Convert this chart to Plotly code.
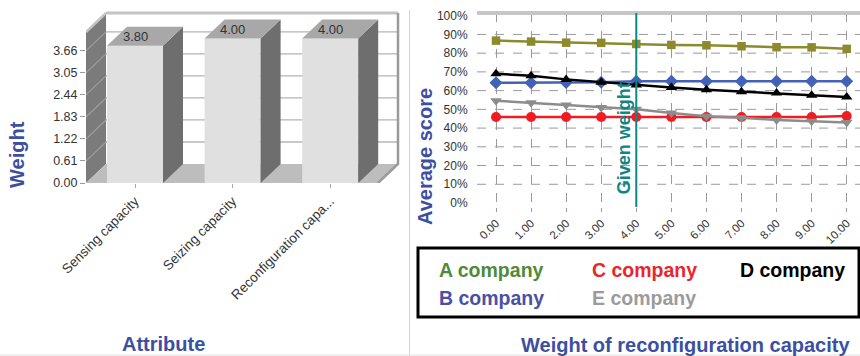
import plotly.graph_objects as go

# ---------------- data ----------------
attributes = ["Sensing capacity", "Seizing capacity", "Reconfiguration capa..."]
weights = [3.80, 4.00, 4.00]
weight_ticks = [0.00, 0.61, 1.22, 1.83, 2.44, 3.05, 3.66]

recon_weight = [0, 1, 2, 3, 4, 5, 6, 7, 8, 9, 10]
recon_labels = ["0.00", "1.00", "2.00", "3.00", "4.00", "5.00",
                "6.00", "7.00", "8.00", "9.00", "10.00"]
score_a = [86.7, 86.2, 85.6, 85.5, 84.9, 84.4, 84.2, 83.7, 83.2, 83.1, 82.3]
score_b = [64.2, 64.2, 64.3, 64.5, 65.0, 65.0, 65.0, 65.0, 65.0, 65.0, 65.0]
score_c = [45.9, 45.9, 45.9, 45.9, 45.9, 45.9, 45.9, 45.9, 45.9, 45.9, 46.4]
score_d = [69.0, 68.0, 66.0, 64.5, 63.0, 61.6, 60.5, 59.4, 58.7, 57.5, 56.6]
score_e = [54.6, 53.5, 52.3, 51.0, 50.0, 48.0, 46.3, 45.5, 44.3, 43.6, 43.0]
score_ticks = [0, 10, 20, 30, 40, 50, 60, 70, 80, 90, 100]
score_labels = [f"{t}%" for t in score_ticks]
given_weight = weights[2]

W, H = 860, 356
FONT = "Liberation Sans, Arial, sans-serif"
TITLE_BLUE = "#3d4fa3"


def px(x):
    return x / W


def py(y):
    return 1 - y / H


fig = go.Figure()
shapes = []
annotations = []

# ---------------- left panel: 3D column chart ----------------
L_ORIGIN, L_STEP = 135.0, 97.6       # pixel position of first category, spacing
L_BASE, L_UNIT = 183.0, 36.1         # pixel of value 0, pixels per unit
L_LEFT, L_RIGHT, L_TOP = 86.0, 400.0, 5.0
x_lo = (L_LEFT - L_ORIGIN) / L_STEP
x_hi = (L_RIGHT - L_ORIGIN) / L_STEP
DX = 20 / L_STEP                      # depth offset, x units
DY = 19 / L_UNIT                      # depth offset, y units
WALL_H = (L_BASE - 32) / L_UNIT
x_floor_r = (378 - L_ORIGIN) / L_STEP
BAR_W = 56 / L_STEP

# back wall
shapes.append(dict(type="rect", xref="x", yref="y", layer="below",
                   x0=x_lo + DX, x1=x_floor_r + DX, y0=DY, y1=WALL_H + DY,
                   fillcolor="white", line=dict(width=0)))
for t in weight_ticks[1:]:
    shapes.append(dict(type="line", xref="x", yref="y", layer="below",
                       x0=x_lo + DX, x1=x_floor_r + DX, y0=t + DY, y1=t + DY,
                       line=dict(color="#b4b4b4", width=1.3)))
# left wall
shapes.append(dict(type="path", xref="x", yref="y", layer="below",
                   path=f"M{x_lo},0 L{x_lo + DX},{DY} L{x_lo + DX},{WALL_H + DY} L{x_lo},{WALL_H} Z",
                   fillcolor="#7b7b7b", line=dict(width=0)))
for t in weight_ticks[1:]:
    shapes.append(dict(type="line", xref="x", yref="y", layer="below",
                       x0=x_lo, x1=x_lo + DX, y0=t, y1=t + DY,
                       line=dict(color="#9c9c9c", width=1.2)))
# floor
shapes.append(dict(type="path", xref="x", yref="y", layer="below",
                   path=f"M{x_lo},0 L{x_floor_r},0 L{x_floor_r + DX},{DY} L{x_lo + DX},{DY} Z",
                   fillcolor="#bdbdbd", line=dict(width=0)))
# frame edges
shapes.append(dict(type="line", xref="x", yref="y", layer="below",
                   x0=x_lo + DX, x1=x_floor_r + DX, y0=WALL_H + DY, y1=WALL_H + DY,
                   line=dict(color="#c4c4c4", width=3)))
shapes.append(dict(type="line", xref="x", yref="y", layer="below",
                   x0=x_lo, x1=x_lo + DX, y0=WALL_H, y1=WALL_H + DY,
                   line=dict(color="#c4c4c4", width=2.5)))
shapes.append(dict(type="path", xref="x", yref="y", layer="below",
                   path=f"M{x_floor_r + DX},{WALL_H + DY} L{x_floor_r + DX},{DY} L{x_floor_r},0",
                   line=dict(color="#9a9a9a", width=2.5)))

# bar side and top faces
for i, v in enumerate(weights):
    xr = i + BAR_W / 2
    xl = i - BAR_W / 2
    fig.add_trace(go.Scatter(
        x=[xr, xr + DX, xr + DX, xr, xr], y=[0, DY, v + DY, v, 0],
        mode="lines", fill="toself", fillcolor="#6e6e6e", line=dict(width=0),
        hoverinfo="skip", showlegend=False, xaxis="x", yaxis="y"))
    fig.add_trace(go.Scatter(
        x=[xl, xl + DX, xr + DX, xr, xl], y=[v, v + DY, v + DY, v, v],
        mode="lines", fill="toself", fillcolor="#a8a8a8", line=dict(width=0),
        hoverinfo="skip", showlegend=False, xaxis="x", yaxis="y"))
    annotations.append(dict(xref="x", yref="y", x=i, y=v + DY / 2,
                            text=f"{v:.2f}", showarrow=False,
                            font=dict(family=FONT, size=13, color="#333")))

# bar front faces
fig.add_trace(go.Bar(x=list(range(len(weights))), y=weights, width=BAR_W,
                     marker=dict(color="#e0e0e0", line=dict(width=0)),
                     showlegend=False, xaxis="x", yaxis="y"))

# ---------------- right panel: sensitivity lines ----------------
R_ORIGIN, R_STEP = 496.0, 35.07
R_LEFT, R_RIGHT = 477.0, 860.0
R_ZERO, R_UNIT = 203.0, 1.873
R_TOP, R_BOTTOM = 13.0, 207.0

series = [
    ("A company", score_a, "#8b8b2e", "square", 8.5),
    ("B company", score_b, "#4262b8", "diamond", 10),
    ("C company", score_c, "#f01c22", "circle", 10),
    ("D company", score_d, "#000000", "triangle-up", 10),
    ("E company", score_e, "#8c8c8c", "triangle-down", 10),
]
for name, vals, col, sym, size in series:
    fig.add_trace(go.Scatter(
        x=recon_weight, y=vals, name=name, mode="lines+markers",
        line=dict(color=col, width=2.5),
        marker=dict(symbol=sym, size=size, color=col),
        cliponaxis=False, showlegend=False, xaxis="x2", yaxis="y2"))

for t in score_ticks[1:-1]:
    shapes.append(dict(type="line", xref="x2 domain", yref="y2", layer="below",
                       x0=0, x1=1, y0=t, y1=t,
                       line=dict(color="#9a9a9a", width=1, dash="dash")))
shapes.append(dict(type="line", xref="x2 domain", yref="y2 domain",
                   x0=0, x1=1, y0=1, y1=1, line=dict(color="#c6c6c6", width=4)))

# given weight marker
shapes.append(dict(type="line", xref="x2", yref="y2 domain",
                   x0=given_weight, x1=given_weight, y0=0, y1=1,
                   line=dict(color="#0f8585", width=2)))
annotations.append(dict(xref="x2", yref="y2", x=given_weight, y=33.6,
                        xanchor="center", yanchor="middle", xshift=-12, yshift=2,
                        text="<b>Given weight</b>", textangle=-90, showarrow=False,
                        font=dict(family=FONT, size=18, color="#0f8585")))

# legend box
shapes.append(dict(type="rect", xref="paper", yref="paper",
                   x0=px(418), x1=px(859), y0=py(317), y1=py(248),
                   line=dict(color="black", width=3)))
legend_items = [
    ("A company", "#4f8a3a", 437, 270),
    ("C company", "#e8262c", 590, 270),
    ("D company", "#000000", 738, 270),
    ("B company", "#4b4fa6", 437, 298),
    ("E company", "#9b9b9b", 590, 298),
]
for txt, col, lx, ly in legend_items:
    annotations.append(dict(xref="paper", yref="paper", x=px(lx), y=py(ly),
                            xanchor="left", yanchor="middle", showarrow=False,
                            text=f"<b>{txt}</b>",
                            font=dict(family=FONT, size=19.5, color=col)))

# axis titles
for txt, cx, cy, ang in [("Weight", 17, 155, -90), ("Attribute", 163, 344, 0),
                         ("Average score", 425, 157, -90),
                         ("Weight of reconfiguration capacity", 685, 345, 0)]:
    annotations.append(dict(xref="paper", yref="paper", x=px(cx), y=py(cy),
                            xanchor="center", yanchor="middle", showarrow=False,
                            textangle=ang, text=f"<b>{txt}</b>",
                            font=dict(family=FONT, size=20, color=TITLE_BLUE)))

# panel separators
shapes.append(dict(type="line", xref="paper", yref="paper",
                   x0=px(409.5), x1=px(409.5), y0=0, y1=py(10),
                   line=dict(color="#d4d4d4", width=1)))
shapes.append(dict(type="line", xref="paper", yref="paper",
                   x0=0, x1=1, y0=py(355), y1=py(355),
                   line=dict(color="#e2e2e2", width=1)))

fig.update_layout(
    width=W, height=H, autosize=False,
    margin=dict(l=0, r=0, t=0, b=0, pad=0, autoexpand=False),
    paper_bgcolor="white", plot_bgcolor="rgba(0,0,0,0)",
    font=dict(family=FONT, color="#333"),
    showlegend=False, shapes=shapes, annotations=annotations,
    xaxis=dict(domain=[px(L_LEFT), px(L_RIGHT)], range=[x_lo, x_hi],
               tickvals=list(range(len(attributes))), ticktext=attributes,
               tickangle=-45, tickfont=dict(size=13.5, color="#333"),
               ticks="outside", ticklen=4, tickcolor="#aaa", automargin=False,
               showgrid=False, zeroline=False, showline=False, fixedrange=True),
    yaxis=dict(domain=[py(L_BASE), py(L_TOP)],
               range=[0, (L_BASE - L_TOP) / L_UNIT],
               tickvals=weight_ticks, ticktext=[f"{t:.2f}" for t in weight_ticks],
               tickfont=dict(size=12.5, color="#333"), automargin=False,
               ticks="outside", ticklen=5, tickcolor="#999",
               showgrid=False, zeroline=False, showline=False, fixedrange=True),
    xaxis2=dict(domain=[px(R_LEFT), px(R_RIGHT)],
                range=[(R_LEFT - R_ORIGIN) / R_STEP, (R_RIGHT - R_ORIGIN) / R_STEP],
                tickvals=recon_weight, ticktext=recon_labels, tickangle=-45,
                tickfont=dict(size=11.5, color="#333"), automargin=False,
                ticks="outside", ticklen=4, tickcolor="#999",
                showgrid=True, gridcolor="#9a9a9a", gridwidth=1, griddash="dash",
                zeroline=False, showline=False, fixedrange=True, anchor="y2"),
    yaxis2=dict(domain=[py(R_BOTTOM), py(R_TOP)],
                range=[-(R_BOTTOM - R_ZERO) / R_UNIT, (R_ZERO - R_TOP) / R_UNIT],
                tickvals=score_ticks, ticktext=score_labels,
                tickfont=dict(size=12, color="#333"), automargin=False,
                ticks="outside", ticklen=6, tickcolor="rgba(0,0,0,0)",
                showgrid=False, zeroline=False, showline=False, fixedrange=True,
                anchor="x2"),
)

fig.write_html("out.html")
